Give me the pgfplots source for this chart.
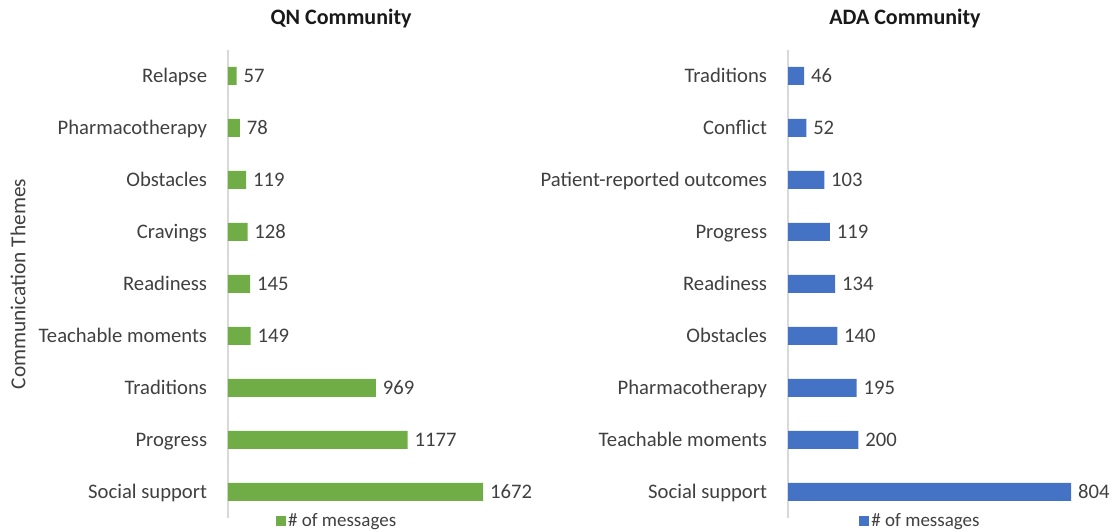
\documentclass[border=0pt]{standalone}
\usepackage{pgfplots}
\pgfplotsset{compat=1.18}
\usepackage{fontspec}
\setmainfont{Carlito}
\definecolor{qngreen}{HTML}{70AD47}
\definecolor{adablue}{HTML}{4472C4}
\definecolor{txt}{HTML}{404040}
\definecolor{axline}{HTML}{D9D9D9}
\pgfplotsset{
  mybars/.style={
    scale only axis,
    height=351pt,
    xbar, bar width=13.5pt,
    xmin=0, ymin=-0.5, ymax=8.5,
    ytick={0,...,8},
    xtick=\empty,
    axis x line=none,
    axis y line*=left,
    y axis line style={draw=axline, line width=0.9pt, -},
    major tick length=0pt,
    yticklabel style={font=\fontsize{15.5}{18}\selectfont, color=txt, inner sep=0pt, text height=0.644em, text depth=0pt, anchor=east, xshift=-15.5pt, yshift=-1.8pt},
    /pgf/number format/assume math mode=true,
    /pgf/number format/1000 sep={},
    nodes near coords,
    nodes near coords style={font=\fontsize{15.5}{18}\selectfont, color=txt, anchor=west, inner sep=0pt, text height=0.644em, text depth=0pt, xshift=5pt, yshift=-1.8pt},
    legend style={draw=none, fill=none, font=\fontsize{14.25}{17}\selectfont, text=txt, anchor=center, inner sep=0pt,
      nodes={inner sep=0.6pt},
      /tikz/every odd column/.append style={column sep=1pt}},
    clip=false,
  }
}
\begin{document}
\begin{tikzpicture}
\useasboundingbox (-171pt,-9.75pt) rectangle (662.25pt,388.5pt);
\begin{axis}[mybars, at={(0pt,0pt)}, width=217.5pt, xmax=1900,
  yticklabels={Social support, Progress, Traditions, Teachable moments, Readiness, Cravings, Obstacles, Pharmacotherapy, Relapse},
  legend style={at={(rel axis cs:0.374,-0.006)}},
  ylabel={Communication Themes},
  ylabel style={at={(rel axis cs:-0.724,0.5)}, anchor=center, font=\fontsize{16}{19}\selectfont, color=txt},
]
\addplot[fill=qngreen, draw=none, legend image code/.code={\fill[qngreen] (0pt,-3.75pt) rectangle (7.5pt,3.75pt);}] coordinates {
  (1672,0) (1177,1) (969,2) (149,3) (145,4) (128,5) (119,6) (78,7) (57,8)};
\addlegendentry{\# of messages}
\node[font=\bfseries\fontsize{16.5}{20}\selectfont, color=black!90] at (rel axis cs:0.39,1.068) {QN Community};
\end{axis}
\begin{axis}[mybars, at={(420pt,0pt)}, width=237.75pt, xmax=900,
  yticklabels={Social support, Teachable moments, Pharmacotherapy, Obstacles, Readiness, Progress, Patient-reported outcomes, Conflict, Traditions},
  legend style={at={(rel axis cs:0.416,-0.006)}},
]
\addplot[fill=adablue, draw=none, legend image code/.code={\fill[adablue] (0pt,-3.75pt) rectangle (7.5pt,3.75pt);}] coordinates {
  (804,0) (200,1) (195,2) (140,3) (134,4) (119,5) (103,6) (52,7) (46,8)};
\addlegendentry{\# of messages}
\node[font=\bfseries\fontsize{16.5}{20}\selectfont, color=black!90] at (rel axis cs:0.369,1.068) {ADA Community};
\end{axis}
\end{tikzpicture}
\end{document}
